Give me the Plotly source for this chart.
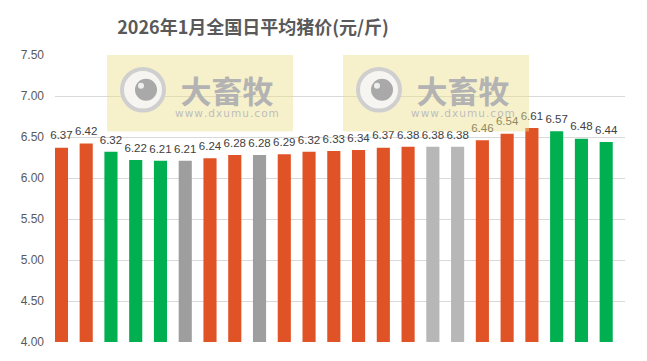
import plotly.graph_objects as go

days = [f"1月{i}日" for i in range(1, 24)]
prices = [6.37, 6.42, 6.32, 6.22, 6.21, 6.21, 6.24, 6.28, 6.28, 6.29, 6.32, 6.33,
          6.34, 6.37, 6.38, 6.38, 6.38, 6.46, 6.54, 6.61, 6.57, 6.48, 6.44]
trend = ["up", "up", "down", "down", "down", "flat", "up", "up", "flat", "up", "up", "up",
         "up", "up", "up", "flat2", "flat2", "up", "up", "up", "down", "down", "down"]
palette = {"up": "#E05326", "down": "#00B050", "flat": "#9E9E9E", "flat2": "#B7B7B7"}
yticks = [4.0, 4.5, 5.0, 5.5, 6.0, 6.5, 7.0, 7.5]
title = "2026年1月全国日平均猪价(元/斤)"

W, H = 647, 361
L, R, T, B = 55, 22, 55, 17

xs = list(range(len(days)))
fig = go.Figure()
fig.add_trace(go.Bar(
    x=xs, y=prices,
    marker=dict(color=[palette[t] for t in trend], line=dict(width=0)),
    width=0.53, hoverinfo="skip",
))
fig.add_trace(go.Scatter(
    x=xs, y=prices, mode="markers+text",
    marker=dict(size=7, opacity=0),
    text=[f"{v:.2f}" for v in prices], textposition="top center",
    textfont=dict(family="Liberation Sans, Arial", size=11.5, color="#404040"),
    cliponaxis=False, hoverinfo="skip",
))

# watermark helpers (pixel -> paper coordinates)
pw, ph = W - L - R, H - T - B
def px(x): return (x - L) / pw
def py(y): return 1 - (y - T) / ph

url = "\u200a".join("www.dxumu.com")
mark = ("<span style='font-family:Noto Sans CJK SC;font-size:31px;color:#b3b3b3'><b>大畜牧</b></span>"
        f"<br>{url}")
shapes, annotations = [], []
for dx in (0, 236):
    shapes.append(dict(type="rect", xref="paper", yref="paper", layer="above",
                       x0=px(107 + dx), x1=px(293 + dx), y0=py(132), y1=py(55),
                       fillcolor="rgba(238,224,140,0.45)", line=dict(width=0)))
    cx, cy = 143 + dx, 90
    shapes.append(dict(type="circle", xref="paper", yref="paper", layer="above",
                       x0=px(cx - 21), x1=px(cx + 21), y0=py(cy + 21), y1=py(cy - 21),
                       fillcolor="rgba(245,245,245,0.9)", line=dict(color="#cfcfcf", width=4)))
    shapes.append(dict(type="circle", xref="paper", yref="paper", layer="above",
                       x0=px(cx + 3 - 11), x1=px(cx + 3 + 11), y0=py(cy + 11), y1=py(cy - 11),
                       fillcolor="#a9a9a9", line=dict(width=0)))
    shapes.append(dict(type="circle", xref="paper", yref="paper", layer="above",
                       x0=px(cx - 5), x1=px(cx + 1), y0=py(cy - 1), y1=py(cy - 7),
                       fillcolor="#eeeeee", line=dict(width=0)))
    annotations.append(dict(xref="paper", yref="paper", x=px(227 + dx), y=py(93),
                            text=mark, showarrow=False, xanchor="center", yanchor="middle",
                            align="center", borderpad=0,
                            font=dict(family="DejaVu Sans", size=10.5, color="#bdbdbd")))

fig.update_layout(
    width=W, height=H,
    margin=dict(l=L, r=R, t=T, b=B),
    paper_bgcolor="white", plot_bgcolor="white",
    showlegend=False,
    title=dict(text=f"<b>{title}</b>", x=253 / W, xref="container", xanchor="center",
               y=1 - 28 / H, yref="container", yanchor="middle",
               font=dict(family="Noto Sans CJK SC", size=18, color="#595959")),
    xaxis=dict(range=[-0.26, 22.76], showticklabels=False, showgrid=False, zeroline=False,
               showline=False, fixedrange=True),
    yaxis=dict(range=[4.0, 7.5], tickvals=yticks, ticktext=[f"{v:.2f}" for v in yticks],
               showgrid=True, gridcolor="#d9d9d9", gridwidth=1, zeroline=False,
               showline=False, ticks="", ticklabelstandoff=10,
               tickfont=dict(family="Liberation Sans, Arial", size=12, color="#595959")),
    shapes=shapes, annotations=annotations,
)

fig.write_html("out.html")
